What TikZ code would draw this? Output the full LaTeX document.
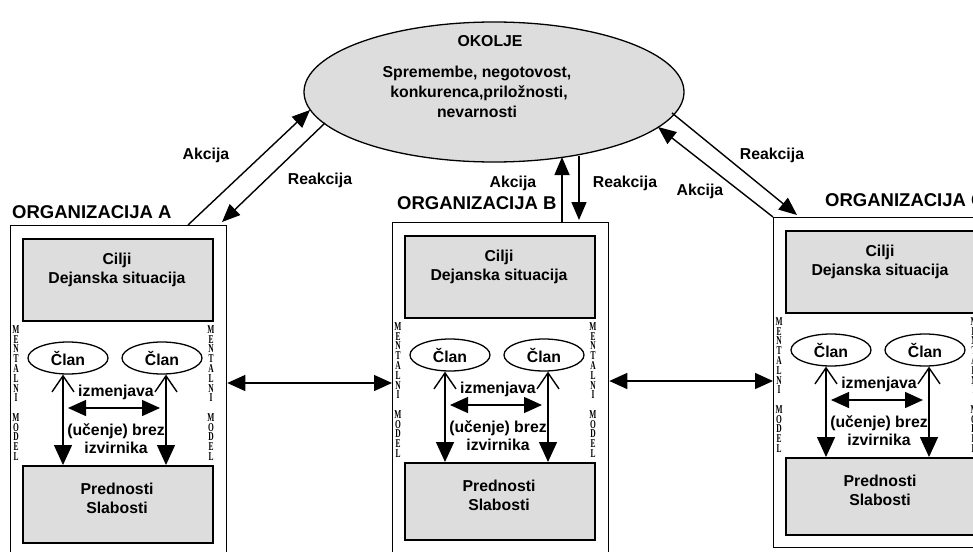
\documentclass[tikz,border=0pt]{standalone}
\usepackage{fontspec}
\setmainfont{Liberation Sans}
\newfontfamily\mmfont{Liberation Serif}
\usetikzlibrary{arrows.meta,shapes.geometric}
\definecolor{boxgray}{HTML}{DDDDDD}
\tikzset{
  txt/.style={font=\bfseries\fontsize{15.8}{19}\selectfont, inner sep=0pt},
  orgtitle/.style={font=\bfseries\fontsize{18.5}{20}\selectfont, inner sep=0pt, anchor=west},
  graybox/.style={draw, line width=1.5pt, fill=boxgray, inner sep=0pt},
  orgbox/.style={draw, line width=1.3pt, inner sep=0pt},
  member/.style={draw, ellipse, line width=1.3pt, minimum width=80pt, minimum height=32pt, inner sep=0pt, font=\bfseries\fontsize{15.8}{19}\selectfont},
  arr/.style={line width=1.4pt, -{Triangle[length=18pt,width=15pt]}},
  dblarr/.style={line width=1.4pt, {Triangle[length=18pt,width=16pt]}-{Triangle[length=18pt,width=16pt]}},
  vline/.style={line width=1.4pt, {Straight Barb[length=16pt,width=22pt]}-{Triangle[length=20pt,width=18pt]}},
  mm/.style={font=\mmfont\bfseries\fontsize{12}{9.77}\selectfont, align=center, inner sep=0pt, transform shape, xscale=0.62}
}
% #1 prefix, #2 shift, #3 letter, #4 title position (template coordinates)
\newcommand\orgunit[4]{%
\begin{scope}[shift={#2}]
\node[orgbox, anchor=north west, minimum width=216pt, minimum height=330pt] (#1box) at (10,225) {};
\node[orgtitle] (#1title) at #4 {ORGANIZACIJA #3};
\node[graybox, anchor=north west, minimum width=190pt, minimum height=82pt] (#1goal) at (22,238) {};
\node[txt, align=center] (#1goaltxt) at (117,270) {Cilji\\Dejanska situacija};
\node[graybox, anchor=north west, minimum width=190pt, minimum height=77pt] (#1pred) at (22,465) {};
\node[txt, align=center] (#1predtxt) at (117,498) {Prednosti\\Slabosti};
\node[member] (#1m1) at (68,358) {Član};
\node[member] (#1m2) at (162,358) {Član};
\coordinate (#1t1) at ([xshift=-5pt]#1m1.south);
\coordinate (#1t2) at ([xshift=4pt]#1m2.south);
\draw[vline] (#1t1) -- (#1t1 |- #1pred.north);
\draw[vline] (#1t2) -- (#1t2 |- #1pred.north);
\coordinate (#1h1) at (68,408);
\coordinate (#1h2) at (160,408);
\draw[dblarr] (#1h1) -- (#1h2);
\node[txt] (#1izm) at (116,392) {izmenjava};
\node[txt] (#1uc) at (116,431) {(učenje) brez};
\node[txt] (#1izv) at (116,448) {izvirnika};
\node[mm] (#1mml) at (16,393) {M\\E\\N\\T\\A\\L\\N\\I\\\mbox{}\\M\\O\\D\\E\\L};
\node[mm] (#1mmr) at (211,393) {M\\E\\N\\T\\A\\L\\N\\I\\\mbox{}\\M\\O\\D\\E\\L};
\end{scope}}
\begin{document}
\begin{tikzpicture}[x=1pt,y=-1pt]
\useasboundingbox (0,0) rectangle (973,551);
\clip (0,0) rectangle (973,551);
\fill[white] (0,0) rectangle (973,551);

% environment
\node[draw, ellipse, fill=boxgray, line width=1.3pt, minimum width=380pt, minimum height=140pt, inner sep=0pt] (env) at (494,92) {};
\node[txt] (envt) at (490,41) {OKOLJE};
\node[txt] (env1) at (477,73) {Spremembe, negotovost,};
\node[txt] (env2) at (479,93) {konkurenca,priložnosti,};
\node[txt] (env3) at (477,112) {nevarnosti};

\orgunit{A}{(0,0)}{A}{(12,212)}
\orgunit{B}{(382,-3)}{B}{(15,206)}
\orgunit{C}{(763,-8)}{C}{(62,208)}

% organization to organization
\coordinate (lvAB) at (0,383);
\coordinate (lvBC) at (0,381);
\draw[dblarr] (Abox.east |- lvAB) -- (Bbox.west |- lvAB);
\draw[dblarr] (Bbox.east |- lvBC) -- (Cbox.west |- lvBC);

% action / reaction
\coordinate (aA1) at (188,225);
\coordinate (aA2) at (310,110);
\coordinate (rA1) at (325,123);
\coordinate (rA2) at (222,222);
\draw[arr] (aA1) -- (aA2);
\draw[arr] (rA1) -- (rA2);
\coordinate (aB1) at (562,222);
\coordinate (aB2) at (562,157);
\coordinate (rB1) at (579,156);
\coordinate (rB2) at (579,220);
\draw[arr] (aB1) -- (aB2);
\draw[arr] (rB1) -- (rB2);
\coordinate (aC1) at (773,217);
\coordinate (aC2) at (658,127);
\coordinate (rC1) at (672,113);
\coordinate (rC2) at (797,215);
\draw[arr] (aC1) -- (aC2);
\draw[arr] (rC1) -- (rC2);

\node[txt] (lAa) at (206,155) {Akcija};
\node[txt] (lAr) at (320,180) {Reakcija};
\node[txt] (lBa) at (513,183) {Akcija};
\node[txt] (lBr) at (625,183) {Reakcija};
\node[txt] (lCr) at (772,155) {Reakcija};
\node[txt] (lCa) at (700,191) {Akcija};
\end{tikzpicture}
\end{document}
